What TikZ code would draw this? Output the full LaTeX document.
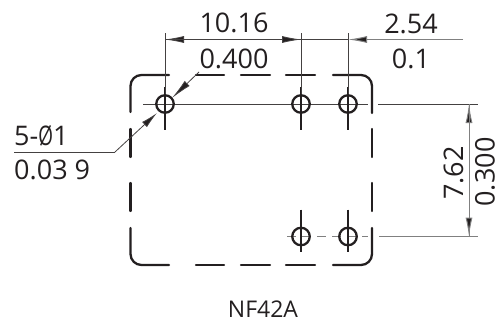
\documentclass[tikz,border=0pt]{standalone}
\usepackage{fontspec}
\usepackage{graphicx}
\setmainfont{Open Sans}
\usetikzlibrary{arrows.meta}
\definecolor{ink}{HTML}{231F20}
\definecolor{dimgray}{HTML}{808080}
\tikzset{
  x=1pt,y=-1pt,
  outline/.style={draw=ink,line width=2.3pt,line cap=round,rounded corners=11pt},
  straightseg/.style={draw=ink,line width=2.3pt,line cap=round},
  axisline/.style={draw=ink,line width=2.3pt},
  thinline/.style={draw=ink!85,line width=0.8pt},
  grayline/.style={draw=dimgray,line width=1pt},
  hole/.style={circle,draw=ink,line width=2.3pt,minimum size=17.5pt,inner sep=0pt},
  dimarrow/.style={-{Latex[length=19pt,width=7pt,fill=ink]}},
  bigtext/.style={font=\fontsize{27}{27}\selectfont,text=ink,inner sep=0pt,anchor=base},
  captext/.style={font=\fontsize{23}{23}\selectfont,text=ink,inner sep=0pt,anchor=base},
}
\begin{document}
\begin{tikzpicture}
\useasboundingbox (0,0) rectangle (495,324);
% hole positions
\coordinate (hA) at (165,104);
\coordinate (hB) at (301,104);
\coordinate (hC) at (348,104);
\coordinate (hD) at (301,236.5);
\coordinate (hE) at (348,236.5);
% frame
\draw[outline] (130.5,112) -- (130.5,75) -- (169,75);
\draw[straightseg] (196,75) -- (224,75);
\draw[straightseg] (241,75) -- (270,75);
\draw[straightseg] (286,75) -- (315,75);
\draw[outline] (333,75) -- (372,75) -- (372,113);
\draw[straightseg] (130.5,129) -- (130.5,157);
\draw[straightseg] (130.5,183) -- (130.5,211);
\draw[straightseg] (372,129) -- (372,157);
\draw[straightseg] (372,183) -- (372,211);
\draw[outline] (130.5,228) -- (130.5,265) -- (169,265);
\draw[straightseg] (196,265) -- (224,265);
\draw[straightseg] (241,265) -- (270,265);
\draw[straightseg] (286,265) -- (315,265);
\draw[outline] (333,265) -- (372,265) -- (372,228);
% centre lines
\coordinate (cl) at (143,104);
\coordinate (cr) at (368,104);
\draw[thinline] (cl) -- (cr);
\coordinate (dl) at (287,236.5);
\coordinate (dr) at (368,236.5);
\draw[grayline,dash pattern=on 9pt off 6pt] (dl) -- (dr);
\foreach \h in {hA,hB,hC}{
  \draw[axisline] ([yshift=17pt]\h) -- ([yshift=-26pt]\h);
}
\foreach \h in {hD,hE}{
  \draw[axisline] ([yshift=27pt]\h) -- ([yshift=-15pt]\h);
}
\node[hole] (holeA) at (hA) {};
\node[hole] (holeB) at (hB) {};
\node[hole] (holeC) at (hC) {};
\node[hole] (holeD) at (hD) {};
\node[hole] (holeE) at (hE) {};
% top dimension
\coordinate (extA) at (165,33);
\coordinate (extB) at (301,33);
\coordinate (extC) at (348,33);
\draw[thinline] (extA) -- (holeA.north);
\draw[thinline] (extB) -- (holeB.north);
\draw[thinline] (extC) -- (holeC.north);
\coordinate (dimA) at (165,39.5);
\coordinate (dimB) at (301,39.5);
\coordinate (dimC) at (348,39.5);
\coordinate (dimR) at (463,39.5);
\draw[thinline,dimarrow] (dimB) -- (dimA);
\draw[thinline,dimarrow] (dimA) -- (dimB);
\draw[thinline] (dimB) -- (dimC);
\draw[grayline,dimarrow] (dimR) -- (dimC);
% side dimension
\coordinate (rA) at (378,104);
\coordinate (rB) at (478,104);
\coordinate (rC) at (379,236.5);
\coordinate (rD) at (478,236.5);
\draw[thinline] (rA) -- (rB);
\draw[grayline] (rC) -- (rD);
\coordinate (vA) at (469,104);
\coordinate (vB) at (469,236.5);
\draw[grayline,dimarrow] (vB) -- (vA);
\draw[grayline,dimarrow] (vA) -- (vB);
% leader
\coordinate (lA) at (14,152);
\coordinate (lB) at (115,152);
\coordinate (lC) at (157,113);
\coordinate (lD) at (199,72);
\coordinate (lE) at (172,98);
\draw[thinline] (lA) -- (lB);
\draw[thinline,-{Latex[length=17pt,width=7pt,fill=ink]}] (lB) -- (lC);
\draw[thinline,-{Latex[length=21pt,width=7pt,fill=ink]}] (lD) -- (lE);
% texts
\node[bigtext] (t1) at (234,32) {10.16};
\node[bigtext] (t2) at (234,68) {0.400};
\node[bigtext] (t3) at (411,33) {2.54};
\node[bigtext] (t4) at (411,68) {0.1};
\node[bigtext,anchor=base west] (t5) at (14,145) {5-\scalebox{0.7}[1]{Ø}1};
\node[bigtext,anchor=base west] (t6) at (14,179) {0.03 9};
\node[bigtext,rotate=90] (t7) at (463,173) {7.62};
\node[bigtext,rotate=90] (t8) at (494.5,172) {0.300};
\node[captext] (t9) at (263,317) {NF42A};
\end{tikzpicture}
\end{document}
